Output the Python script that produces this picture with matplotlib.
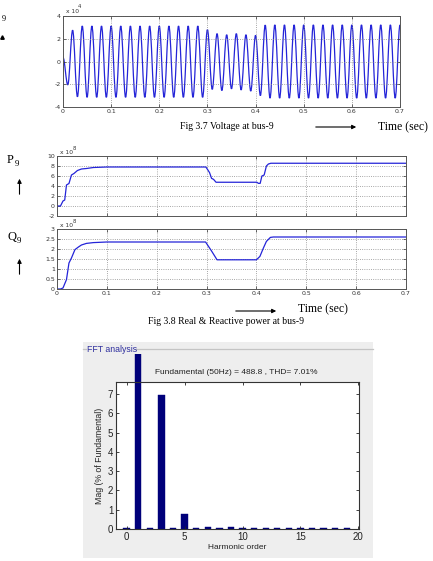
import numpy as np
import matplotlib
matplotlib.use("Agg")
import matplotlib.pyplot as plt
from matplotlib.patches import Rectangle, FancyArrowPatch, PathPatch
from matplotlib.path import Path
from matplotlib.lines import Line2D
from matplotlib.transforms import Bbox, TransformedBbox
from matplotlib import font_manager

plt.rcParams['axes.unicode_minus'] = False

W, H = 433, 561

# ---------------- data ----------------
# Voltage at bus-9: extreme value (x1e4) of each half cycle, at t = 0, 0.01, ..., 0.70 s
v_half_cycle_s = 0.01
v_extrema = [0.36, -2.05, 2.75, -3.1, 3.12, -3.15, 3.12, -3.15, 3.12, -3.15,
             3.12, -3.15, 3.12, -3.15, 3.12, -3.15, 3.12, -3.15, 3.12, -3.15,
             3.12, -3.15, 3.12, -3.15, 3.12, -3.15, 3.12, -3.15, 3.12, -3.15,
             2.8, -2.45, 2.45, -2.55, 2.35, -2.4, 2.45, -2.5, 2.35, -2.6,
             2.3, -3.0, 3.2, -3.22, 3.22, -3.22, 3.22, -3.22, 3.22, -3.22,
             3.22, -3.22, 3.22, -3.22, 3.22, -3.22, 3.22, -3.22, 3.22, -3.22,
             3.22, -3.22, 3.22, -3.22, 3.22, -3.22, 3.22, -3.22, 3.22, -3.22,
             3.22]

# Real power P9 (x1e8)
p_time = [0, 0.007, 0.012, 0.0155, 0.019, 0.024, 0.029, 0.034, 0.041, 0.049,
          0.059, 0.073, 0.1, 0.2986, 0.302, 0.306, 0.31, 0.314, 0.319,
          0.4008, 0.404, 0.4075, 0.411, 0.4155, 0.42, 0.424, 0.429, 0.7]
p_value = [0, 0, 1.0, 1.2, 4.2, 4.5, 6.2, 6.5, 7.1, 7.4,
           7.5, 7.7, 7.8, 7.8, 7.3, 6.67, 5.53, 5.33, 4.75,
           4.75, 4.53, 4.53, 6.0, 6.2, 8.0, 8.4, 8.55, 8.55]

# Reactive power Q9 (x1e8)
q_time = [0, 0.007, 0.012, 0.019, 0.024, 0.029, 0.036, 0.043, 0.049, 0.059,
          0.073, 0.1, 0.298, 0.31, 0.321, 0.40, 0.407, 0.414, 0.42, 0.428, 0.434, 0.7]
q_value = [0, 0, 0.05, 0.47, 1.3, 1.55, 1.97, 2.1, 2.2, 2.28,
           2.32, 2.35, 2.35, 1.9, 1.46, 1.46, 1.63, 2.05, 2.38, 2.58, 2.6, 2.6]

# FFT analysis
harmonic_order = list(range(20))
harmonic_mag = [0.04, 100, 0.03, 6.95, 0.03, 0.78, 0.03, 0.1, 0.03, 0.1,
                0.05, 0.07, 0.03, 0.03, 0.03, 0.07, 0.03, 0.03, 0.03, 0.03]
fft_title = "Fundamental (50Hz) = 488.8 , THD= 7.01%"

time_ticks = [0, 0.1, 0.2, 0.3, 0.4, 0.5, 0.6, 0.7]
time_ticklabels = ["0", "0.1", "0.2", "0.3", "0.4", "0.5", "0.6", "0.7"]

# ---------------- figure ----------------
fig = plt.figure(figsize=(W / 100, H / 100), dpi=100)
fig.patch.set_facecolor("white")


def fx(x):
    return x / W


def fy(y):
    return 1 - y / H


def ax_at(x0, y0, x1, y1):
    return fig.add_axes([fx(x0), fy(y1), (x1 - x0) / W, (y1 - y0) / H])


LINE = "#2424d8"
SPINE = "#555555"
TICKC = "#333333"
SERIF = ["Liberation Serif", "DejaVu Serif"]
SANS = ["Liberation Sans", "DejaVu Sans"]
_names = {f.name for f in font_manager.fontManager.ttflist}
NARROW_OK = "Liberation Sans Narrow" in _names
NARROW = ["Liberation Sans Narrow"] + SANS if NARROW_OK else SANS


def matlab_style(ax, labelsize=4.5):
    for s in ax.spines.values():
        s.set_color(SPINE)
        s.set_linewidth(0.7)
    ax.tick_params(direction="in", length=2, width=0.5, top=True, right=True,
                   labelsize=labelsize, pad=1.5, colors=TICKC)
    ax.grid(True, linestyle=":", color="#8a8a8a", linewidth=0.6)


def exponent_label(ax, exp):
    ax.text(0.008, 1.02, "x 10", transform=ax.transAxes, fontsize=4.3,
            color=TICKC, va="bottom", ha="left")
    ax.text(0.045, 1.08, exp, transform=ax.transAxes, fontsize=3.8,
            color=TICKC, va="bottom", ha="left")


def smooth_wave_path(times, values, k=0.363):
    # cubic Bezier segments between successive extrema (zero slope at extrema)
    verts = [(times[0], values[0])]
    codes = [Path.MOVETO]
    for i in range(1, len(times)):
        t0, t1 = times[i - 1], times[i]
        dt = t1 - t0
        verts += [(t0 + k * dt, values[i - 1]), (t1 - k * dt, values[i]),
                  (t1, values[i])]
        codes += [Path.CURVE4] * 3
    return Path(verts, codes)


# ---- Voltage plot ----
ax1 = ax_at(63, 16, 400, 107)
v_t = np.arange(len(v_extrema)) * v_half_cycle_s
ax1.add_patch(PathPatch(smooth_wave_path(v_t, v_extrema), fill=False,
                        edgecolor=LINE, lw=0.9))
ax1.set_xlim(0, 0.7)
ax1.set_ylim(-4, 4)
ax1.set_xticks(time_ticks)
ax1.set_xticklabels(time_ticklabels)
ax1.set_yticks([-4, -2, 0, 2, 4])
ax1.set_yticklabels(["-4", "-2", "0", "2", "4"])
matlab_style(ax1)
exponent_label(ax1, "4")

fig.text(fx(180), fy(127), "Fig 3.7 Voltage at bus-9", fontsize=7,
         family=SERIF, va="center", ha="left")
fig.add_artist(FancyArrowPatch((fx(313), fy(127)), (fx(359), fy(127)),
                               transform=fig.transFigure, arrowstyle="-|>",
                               mutation_scale=6, lw=0.8, color="black"))
fig.text(fx(378), fy(127), "Time (sec)", fontsize=8.5, family=SERIF,
         va="center", ha="left")
fig.text(fx(2), fy(19), "9", fontsize=6, family=SERIF, va="center", ha="left")
fig.add_artist(Line2D([fx(1.5)], [fy(37)], marker="^", markersize=2.5,
                      color="black", transform=fig.transFigure))

# ---- P plot ----
ax2 = ax_at(57, 156, 406, 216)
ax2.plot(p_time, p_value, color=LINE, lw=0.9)
ax2.set_xlim(0, 0.7)
ax2.set_ylim(-2, 10)
ax2.set_xticks(time_ticks)
ax2.set_xticklabels([])
ax2.set_yticks([-2, 0, 2, 4, 6, 8, 10])
ax2.set_yticklabels(["-2", "0", "2", "4", "6", "8", "10"])
matlab_style(ax2)
exponent_label(ax2, "8")

# ---- Q plot ----
ax3 = ax_at(57, 229, 406, 289)
ax3.plot(q_time, q_value, color=LINE, lw=0.9)
ax3.set_xlim(0, 0.7)
ax3.set_ylim(0, 3)
ax3.set_xticks(time_ticks)
ax3.set_xticklabels(time_ticklabels)
ax3.set_yticks([0, 0.5, 1, 1.5, 2, 2.5, 3])
ax3.set_yticklabels(["0", "0.5", "1", "1.5", "2", "2.5", "3"])
matlab_style(ax3)
exponent_label(ax3, "8")

fig.text(fx(7), fy(160), "P", fontsize=9, family=SERIF, va="center", ha="left")
fig.text(fx(14.5), fy(163.5), "9", fontsize=6.5, family=SERIF, va="center", ha="left")
fig.text(fx(7), fy(237), "Q", fontsize=9, family=SERIF, va="center", ha="left")
fig.text(fx(17), fy(241), "9", fontsize=6.5, family=SERIF, va="center", ha="left")
for ya, yb in [(197, 176), (277, 256)]:
    fig.add_artist(FancyArrowPatch((fx(19.5), fy(ya)), (fx(19.5), fy(yb)),
                                   transform=fig.transFigure, arrowstyle="-|>",
                                   mutation_scale=6, lw=0.8, color="black"))

fig.add_artist(FancyArrowPatch((fx(233), fy(311)), (fx(279), fy(311)),
                               transform=fig.transFigure, arrowstyle="-|>",
                               mutation_scale=6, lw=0.8, color="black"))
fig.text(fx(298), fy(309), "Time (sec)", fontsize=8.5, family=SERIF,
         va="center", ha="left")
fig.text(fx(148), fy(321), "Fig 3.8 Real & Reactive power at bus-9", fontsize=7,
         family=SERIF, va="center", ha="left")

# ---- FFT panel ----
fig.add_artist(Rectangle((fx(83), fy(558)), (373 - 83) / W, (558 - 342) / H,
                         transform=fig.transFigure, facecolor="#eeeeee",
                         edgecolor="none", zorder=-5))
fig.add_artist(Line2D([fx(136), fx(373)], [fy(349), fy(349)], color="#c4c4c4",
                      lw=0.9, transform=fig.transFigure, zorder=-4))
fig.add_artist(Line2D([fx(83), fx(86)], [fy(349), fy(349)], color="#c4c4c4",
                      lw=0.9, transform=fig.transFigure, zorder=-4))
fig.text(fx(87), fy(349), "FFT analysis", fontsize=7.2 if NARROW_OK else 6.3,
         color="#2f2f9e", va="center", ha="left", family=NARROW)

ax4 = ax_at(116, 382, 359, 529)
bars = ax4.bar(harmonic_order, harmonic_mag, width=0.55, color="#00007a",
               edgecolor="#00007a", linewidth=0.3)
ax4.set_xlim(-0.92, 20.05)
ax4.set_ylim(0, 7.63)
ax4.set_xticks([0, 5, 10, 15, 20])
ax4.set_yticks(range(8))
for s in ax4.spines.values():
    s.set_color("#333333")
    s.set_linewidth(0.8)
ax4.tick_params(direction="in", length=2.5, width=0.6, top=True, right=True,
                labelsize=7.5 if NARROW_OK else 7, pad=2, colors="#222222")
for lab in ax4.get_xticklabels() + ax4.get_yticklabels():
    lab.set_family(NARROW)
ax4.set_xlabel("Harmonic order", fontsize=7 if NARROW_OK else 6, color="#222222",
               labelpad=1.5, family=NARROW)
ax4.set_ylabel("Mag (% of Fundamental)", fontsize=7.2 if NARROW_OK else 6.3,
               color="#222222", labelpad=3, family=NARROW)
# the fundamental bar rises out of the axes up to the panel edge
clip = TransformedBbox(Bbox([[fx(100), fy(529)], [fx(373), fy(354)]]),
                       fig.transFigure)
bars[1].set_clip_box(clip)
fig.text(fx(236), fy(372), fft_title, fontsize=7.2 if NARROW_OK else 6.0,
         color="#222222", va="center", ha="center", family=NARROW)

fig.savefig("out.png", dpi=100, facecolor="white")
